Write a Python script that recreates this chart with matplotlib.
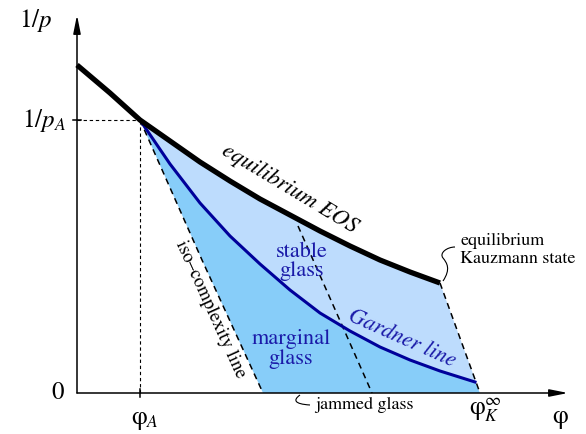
import numpy as np
import matplotlib
matplotlib.use('Agg')
import matplotlib.pyplot as plt
from matplotlib.path import Path
from matplotlib.patches import PathPatch

plt.rcParams['font.family'] = 'STIXGeneral'
plt.rcParams['mathtext.fontset'] = 'stix'

# equilibrium equation of state, 1/p against packing fraction
eos_phi = [0.00, 0.33, 0.63, 0.93, 1.23, 1.53, 1.83, 2.13, 2.43, 2.73, 3.03, 3.33, 3.63]
eos_invp = [3.28, 3.00, 2.73, 2.52, 2.31, 2.12, 1.94, 1.78, 1.62, 1.47, 1.33, 1.21, 1.10]

# Gardner line, from point A down to the jamming end
gard_phi = [0.63, 0.93, 1.23, 1.53, 1.83, 2.13, 2.43, 2.73, 3.03, 3.33, 3.63, 3.98]
gard_invp = [2.73, 2.29, 1.90, 1.57, 1.29, 1.03, 0.80, 0.62, 0.46, 0.33, 0.22, 0.11]

# glass state-following lines (dashed)
iso_phi = [0.63, 1.25, 1.86]
iso_invp = [2.73, 1.33, 0.00]
mid_phi = [2.21, 2.45, 2.95]
mid_invp = [1.67, 1.13, 0.00]
kauz_phi = [3.63, 4.03]
kauz_invp = [1.10, 0.00]

phi_A, invp_A = 0.63, 2.73

light = '#bddcfd'
dark = '#87cdf9'
navy = '#00009a'
txtblue = '#1a1aa8'

fig = plt.figure(figsize=(5.86, 4.34), dpi=100)
ax = fig.add_axes([0, 0, 1, 1])
ax.set_xlim(-0.77, 5.09)
ax.set_ylim(-0.41, 3.93)
ax.axis('off')

# stable glass region: between EOS and Gardner line
kz_top = kauz_invp[0]
slope = (kauz_phi[1] - kauz_phi[0]) / (kauz_invp[1] - kauz_invp[0])
g_end_phi = kauz_phi[0] + slope * (gard_invp[-1] - kz_top)
xs = eos_phi[2:] + [g_end_phi] + gard_phi[::-1]
ys = eos_invp[2:] + [gard_invp[-1]] + gard_invp[::-1]
ax.fill(xs, ys, color=light, lw=0, zorder=1)

# marginal glass region: below Gardner line
xs = gard_phi + [kauz_phi[1], iso_phi[-1]] + iso_phi[::-1]
ys = gard_invp + [0, 0] + iso_invp[::-1]
ax.fill(xs, ys, color=dark, lw=0, zorder=1)

ax.plot(eos_phi, eos_invp, color='black', lw=3.8, solid_capstyle='butt',
        solid_joinstyle='round', zorder=5)
ax.plot(gard_phi, gard_invp, color=navy, lw=2.2, solid_joinstyle='round', zorder=4)

dash = dict(color='black', lw=1.1, ls=(0, (4, 3)), zorder=3)
ax.plot(iso_phi, iso_invp, **dash)
ax.plot(mid_phi, mid_invp, **dash)
ax.plot(kauz_phi, kauz_invp, **dash)

# guides to point A
ax.plot([0, phi_A], [invp_A, invp_A], color='black', lw=0.8, ls=(0, (3, 2.5)), zorder=2)
ax.plot([phi_A, phi_A], [0, invp_A], color='black', lw=0.8, ls=(0, (3, 2.5)), zorder=2)

# axes with arrows
arr = dict(arrowstyle='-|>,head_length=1.1,head_width=0.22', color='black', lw=1.1,
           shrinkA=0, shrinkB=0)
ax.annotate('', xy=(0, 3.78), xytext=(0, 0), arrowprops=arr, zorder=6)
ax.annotate('', xy=(4.91, 0), xytext=(0, 0), arrowprops=arr, zorder=6)
ax.plot([phi_A, phi_A], [-0.04, 0.04], color='black', lw=1.1, zorder=6)
ax.plot([-0.04, 0.04], [invp_A, invp_A], color='black', lw=1.1, zorder=6)

# axis labels
ax.text(-0.41, 3.73, r'$1/p$', fontsize=18, ha='center', va='center')
ax.text(-0.11, 2.72, r'$1/p_A$', fontsize=18, ha='right', va='center')
ax.text(-0.13, 0.0, '0', fontsize=18, ha='right', va='center')
ax.text(phi_A + 0.05, -0.15, r'$\mathrm{\varphi}_A$', fontsize=18, ha='center', va='top')
ax.text(4.08, -0.04, r'$\mathrm{\varphi}_K^\infty$', fontsize=18, ha='center', va='top')
ax.text(4.83, -0.14, r'$\mathrm{\varphi}$', fontsize=18, ha='center', va='top')

# region and curve labels
ax.text(2.13, 2.04, 'equilibrium EOS', fontsize=16.5, style='italic', rotation=-31,
        rotation_mode='anchor', ha='center', va='center')
ax.text(3.25, 0.55, 'Gardner line', fontsize=16, style='italic', color=txtblue,
        rotation=-24, rotation_mode='anchor', ha='center', va='center')
ax.text(2.25, 1.31, 'stable\nglass', fontsize=16, color=txtblue, ha='center',
        va='center', linespacing=0.95)
ax.text(2.14, 0.44, 'marginal\nglass', fontsize=16, color=txtblue, ha='center',
        va='center', linespacing=0.95)
ax.text(1.33, 0.84, 'iso\u2013complexity line', fontsize=13.5, rotation=-65.7,
        rotation_mode='anchor', ha='center', va='center')
ax.text(3.83, 1.43, 'equilibrium\nKauzmann state', fontsize=13, ha='left',
        va='center', linespacing=1.1)
ax.text(2.38, -0.12, 'jammed glass', fontsize=13, ha='left', va='center')

# squiggly leaders for the two annotations
sq = Path([(3.66, 1.12), (3.74, 1.24), (3.70, 1.30), (3.66, 1.35),
           (3.62, 1.40), (3.70, 1.46), (3.78, 1.46)],
          [Path.MOVETO, Path.CURVE4, Path.CURVE4, Path.CURVE4,
           Path.CURVE4, Path.CURVE4, Path.CURVE4])
ax.add_patch(PathPatch(sq, fill=False, lw=0.8, color='black'))
jq = Path([(2.23, -0.02), (2.16, -0.07), (2.17, -0.11), (2.33, -0.12)],
          [Path.MOVETO, Path.CURVE4, Path.CURVE4, Path.CURVE4])
ax.add_patch(PathPatch(jq, fill=False, lw=0.8, color='black'))

fig.savefig('out.png', dpi=100)
